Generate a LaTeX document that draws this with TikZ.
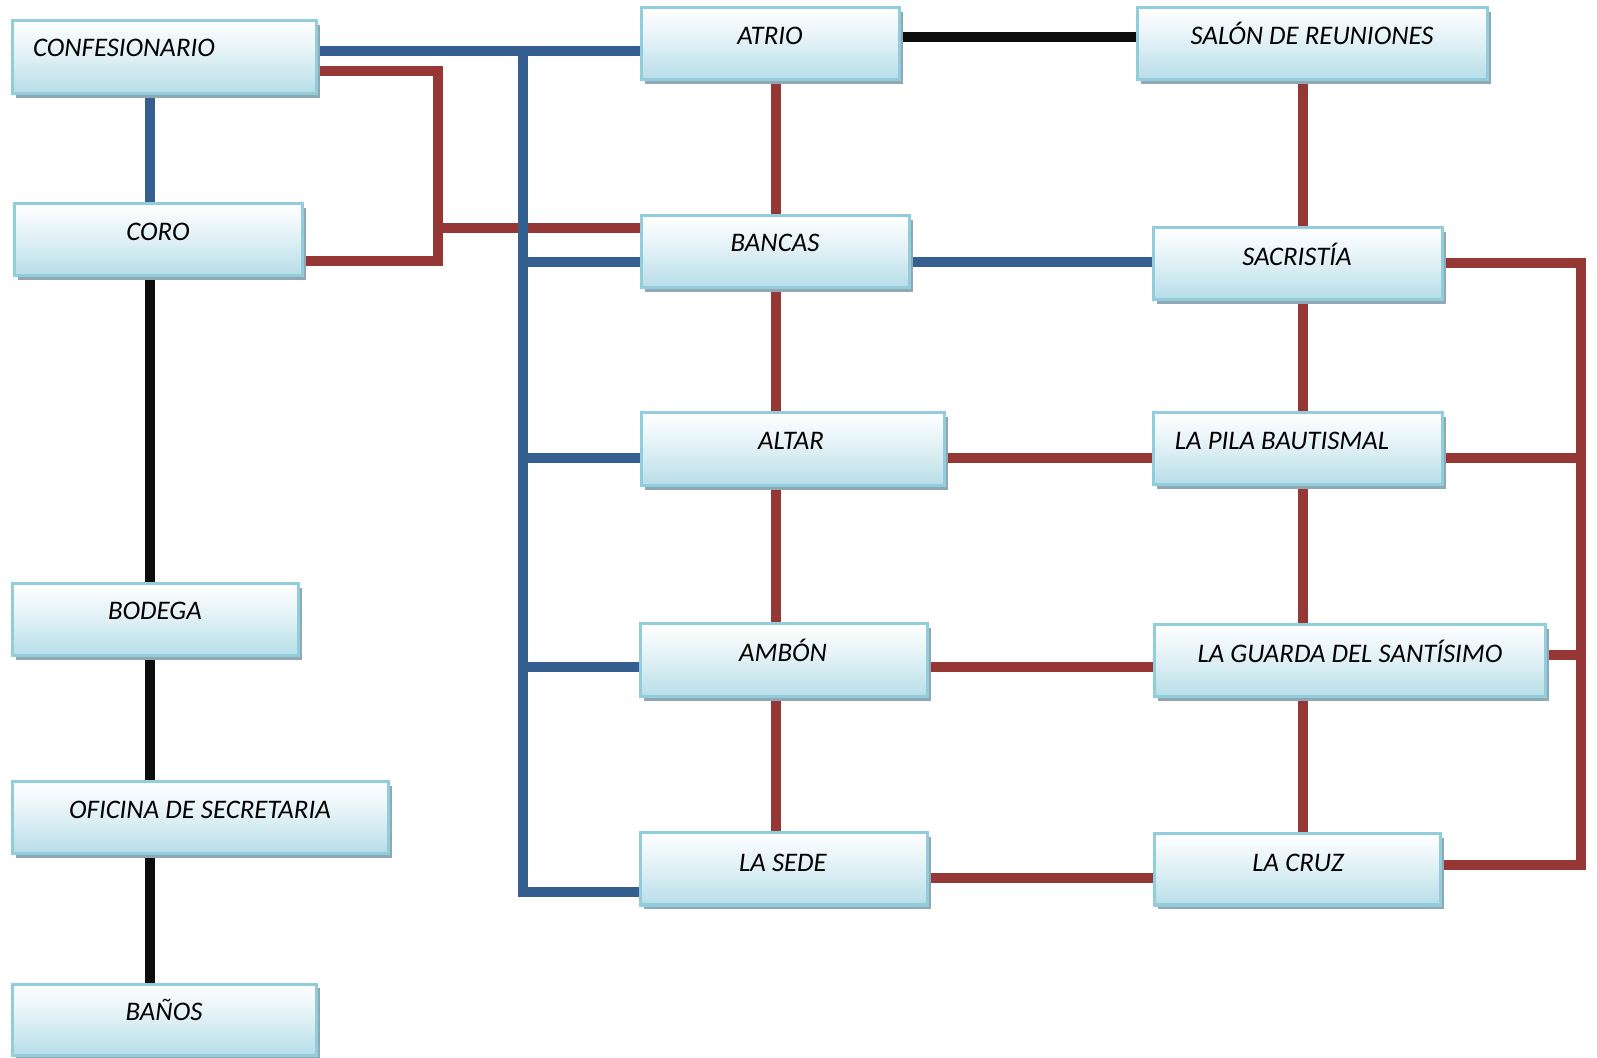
\documentclass[tikz,border=0pt]{standalone}
\usepackage{fontspec}
\setmainfont{Carlito}
\usetikzlibrary{shadows,backgrounds}
\definecolor{lnblue}{HTML}{365F91}
\definecolor{lnred}{HTML}{953735}
\definecolor{lnblack}{HTML}{0D0D0D}
\definecolor{bxborder}{HTML}{92CDDC}
\definecolor{bxfill}{HTML}{B6DDE8}
\definecolor{bxshadow}{HTML}{8FA8B3}
\tikzset{
  roombox/.style={rectangle, inner sep=0pt, outer sep=0pt,
    draw=bxborder, line width=1.5pt,
    top color=white, bottom color=bxfill, middle color=white!55!bxfill,
    general shadow={fill=bxshadow, shadow xshift=2pt, shadow yshift=-2pt}},
  lbl/.style={anchor=base, inner sep=0pt, font=\fontsize{13.4pt}{15pt}\selectfont\itshape},
  bluel/.style={draw=lnblue, line width=5pt, line join=miter},
  redl/.style={draw=lnred, line width=5pt, line join=miter},
  blackl/.style={draw=lnblack, line width=5pt, line join=miter}
}
\begin{document}
\begin{tikzpicture}[x=0.5pt,y=-0.5pt]
\useasboundingbox (0,0) rectangle (1597,1058);
% boxes
\node[roombox, minimum width=152pt, minimum height=36.5pt] (conf) at (164,57.5) {};
\node[roombox, minimum width=144pt, minimum height=36pt] (coro) at (158,240) {};
\node[roombox, minimum width=143pt, minimum height=36pt] (bod) at (155,620) {};
\node[roombox, minimum width=188pt, minimum height=36pt] (ofi) at (200,818) {};
\node[roombox, minimum width=152pt, minimum height=35.5pt] (banos) at (164,1019.5) {};
\node[roombox, minimum width=129pt, minimum height=36pt] (atrio) at (770,44) {};
\node[roombox, minimum width=175pt, minimum height=36pt] (salon) at (1312,44) {};
\node[roombox, minimum width=134pt, minimum height=36pt] (bancas) at (775,252) {};
\node[roombox, minimum width=144.5pt, minimum height=36pt] (sac) at (1297.5,264) {};
\node[roombox, minimum width=151.5pt, minimum height=36.5pt] (altar) at (792.5,449.5) {};
\node[roombox, minimum width=144.5pt, minimum height=36pt] (pila) at (1297.5,449) {};
\node[roombox, minimum width=143.5pt, minimum height=36.5pt] (ambon) at (783.5,660.5) {};
\node[roombox, minimum width=195.5pt, minimum height=36pt] (guarda) at (1349.5,661) {};
\node[roombox, minimum width=143.5pt, minimum height=36pt] (sede) at (783.5,869) {};
\node[roombox, minimum width=143pt, minimum height=35.5pt] (cruz) at (1297,869.5) {};
% labels
\node[lbl] (tconf) at (124,57) {CONFESIONARIO};
\node[lbl] (tcoro) at (158,241) {CORO};
\node[lbl] (tbod) at (155,620) {BODEGA};
\node[lbl] (tofi) at (200,819) {OFICINA DE SECRETARIA};
\node[lbl] (tbanos) at (164,1020) {BAÑOS};
\node[lbl] (tatrio) at (770,45) {ATRIO};
\node[lbl] (tsalon) at (1312,45) {SALÓN DE REUNIONES};
\node[lbl] (tbancas) at (775,252) {BANCAS};
\node[lbl] (tsac) at (1297,266) {SACRISTÍA};
\node[lbl] (taltar) at (791,450) {ALTAR};
\node[lbl] (tpila) at (1282,450) {LA PILA BAUTISMAL};
\node[lbl] (tambon) at (783,662) {AMBÓN};
\node[lbl] (tguarda) at (1350,663) {LA GUARDA DEL SANTÍSIMO};
\node[lbl] (tsede) at (783,871) {LA SEDE};
\node[lbl] (tcruz) at (1298,871) {LA CRUZ};
% junction coordinates
\coordinate (rA) at (438,71);
\coordinate (rB) at (438,228);
\coordinate (rC) at (438,261);
\coordinate (bT) at (523,51);
\coordinate (bB) at (523,892);
\coordinate (bbancas) at (523,262);
\coordinate (baltar) at (523,458);
\coordinate (bambon) at (523,667);
\coordinate (tR1) at (1581,263);
\coordinate (tR2) at (1581,458);
\coordinate (tR3) at (1581,655);
\coordinate (tR4) at (1581,865);
\begin{pgfonlayer}{background}
% left column
\path[bluel] (conf.south -| 150,0) -- (coro.north -| 150,0);
\path[blackl] (coro.south -| 150,0) -- (bod.north -| 150,0);
\path[blackl] (bod.south -| 150,0) -- (ofi.north -| 150,0);
\path[blackl] (ofi.south -| 150,0) -- (banos.north -| 150,0);
% red bracket
\path[redl] (conf.east |- rA) -- (rA) -- (rC) -- (coro.east |- rC);
\path[redl] (rB) -- (bancas.west |- rB);
% blue trunk
\path[bluel] (conf.east |- bT) -- (atrio.west |- bT);
\path[bluel] (bT) -- (bB) -- (sede.west |- bB);
\path[bluel] (bbancas) -- (bancas.west |- bbancas);
\path[bluel] (baltar) -- (altar.west |- baltar);
\path[bluel] (bambon) -- (ambon.west |- bambon);
\path[bluel] (bancas.east |- 0,262) -- (sac.west |- 0,262);
% top
\path[blackl] (atrio.east |- 0,37) -- (salon.west |- 0,37);
% middle column
\path[redl] (atrio.south -| 776,0) -- (bancas.north -| 776,0);
\path[redl] (bancas.south -| 776,0) -- (altar.north -| 776,0);
\path[redl] (altar.south -| 776,0) -- (ambon.north -| 776,0);
\path[redl] (ambon.south -| 776,0) -- (sede.north -| 776,0);
% cross links
\path[redl] (altar.east |- 0,458) -- (pila.west |- 0,458);
\path[redl] (ambon.east |- 0,667) -- (guarda.west |- 0,667);
\path[redl] (sede.east |- 0,878) -- (cruz.west |- 0,878);
% right column
\path[redl] (salon.south -| 1303,0) -- (sac.north -| 1303,0);
\path[redl] (sac.south -| 1303,0) -- (pila.north -| 1303,0);
\path[redl] (pila.south -| 1303,0) -- (guarda.north -| 1303,0);
\path[redl] (guarda.south -| 1303,0) -- (cruz.north -| 1303,0);
% right trunk
\path[redl] (sac.east |- tR1) -- (tR1) -- (tR4) -- (cruz.east |- tR4);
\path[redl] (pila.east |- tR2) -- (tR2);
\path[redl] (guarda.east |- tR3) -- (tR3);
\end{pgfonlayer}
\end{tikzpicture}
\end{document}
